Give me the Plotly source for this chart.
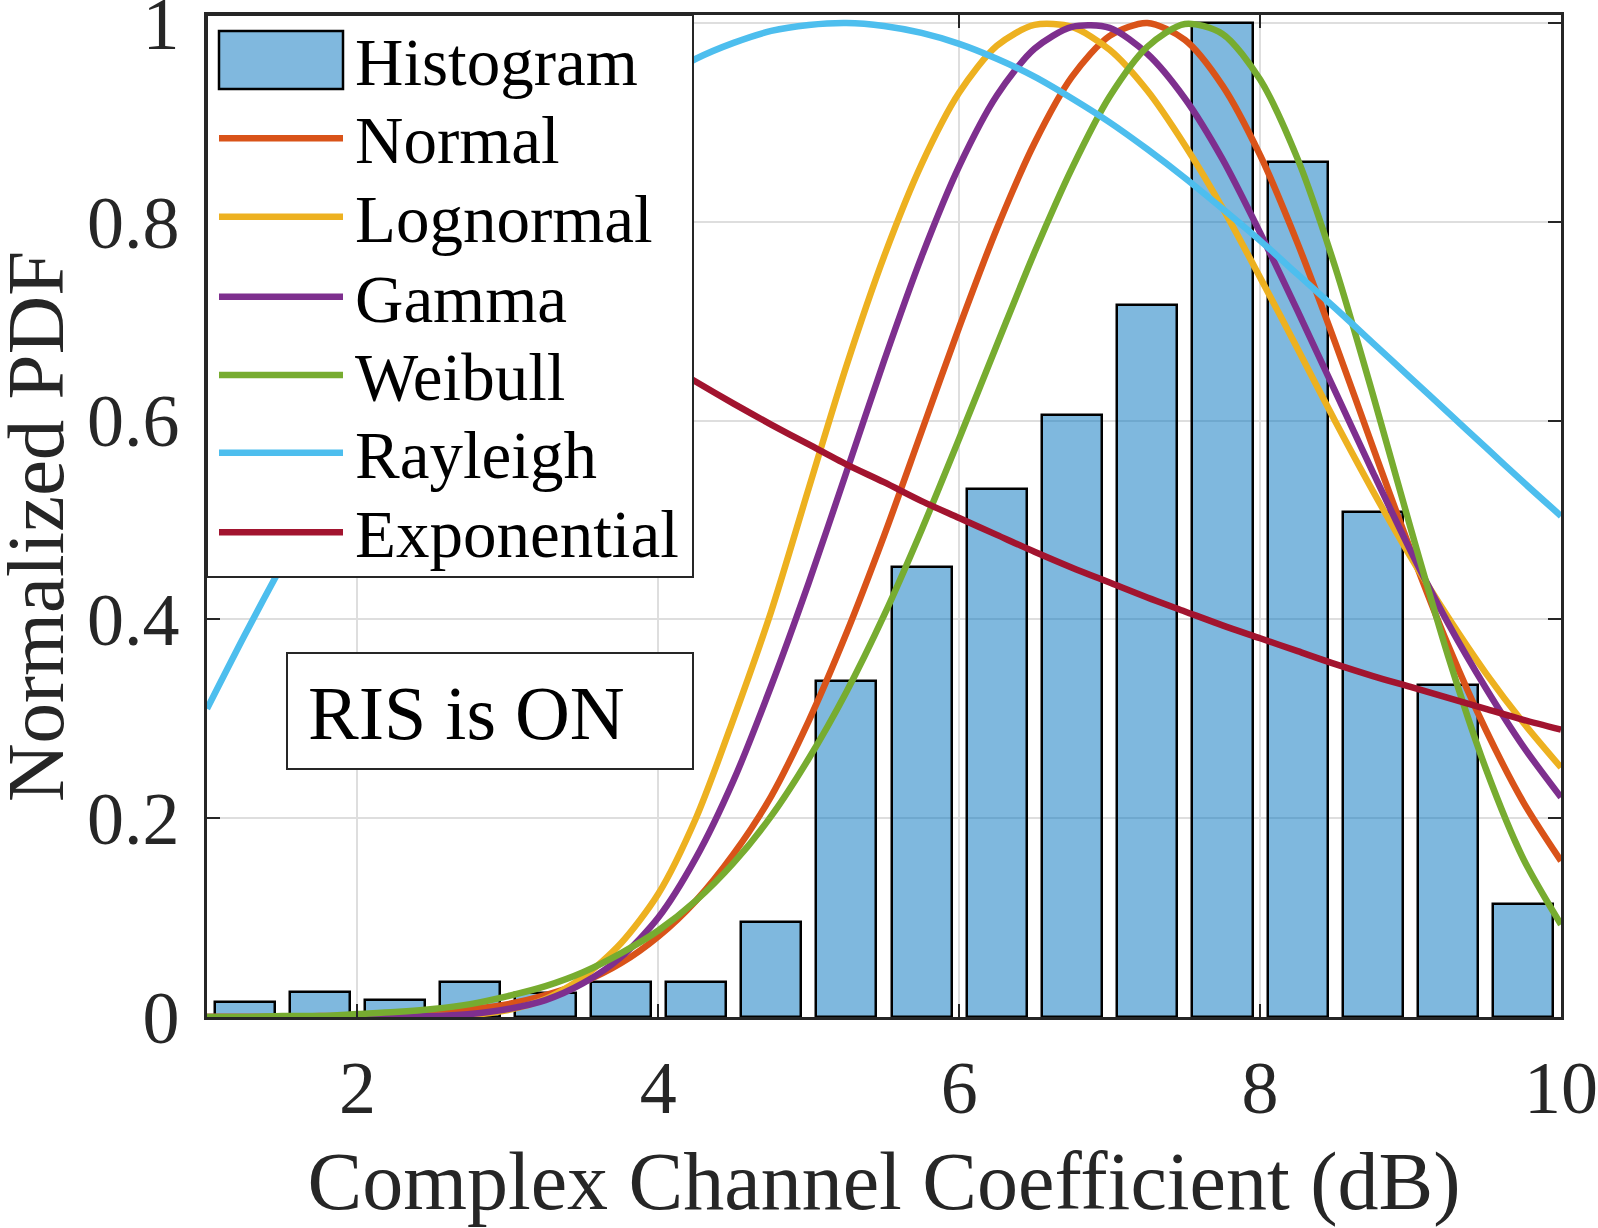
import plotly.graph_objects as go

# ---------------- data ----------------
hist_centers = [1.25, 1.75, 2.25, 2.75, 3.25, 3.75, 4.25, 4.75, 5.25, 5.75,
                6.25, 6.75, 7.25, 7.75, 8.25, 8.75, 9.25, 9.75]
hist_values = [0.015, 0.025, 0.017, 0.035, 0.024, 0.035, 0.035, 0.096, 0.338, 0.453,
               0.531, 0.606, 0.716, 1.000, 0.860, 0.508, 0.334, 0.114]

x_fit = [1.00, 1.25, 1.50, 1.75, 2.00, 2.25, 2.50, 2.75, 3.00, 3.25, 3.50, 3.75,
         4.00, 4.25, 4.50, 4.75, 5.00, 5.25, 5.50, 5.75, 6.00, 6.25, 6.50, 6.75,
         7.00, 7.25, 7.50, 7.75, 8.00, 8.25, 8.50, 8.75, 9.00, 9.25, 9.50, 9.75, 10.00]

normal = [0.000, 0.000, 0.000, 0.001, 0.001, 0.003, 0.005, 0.008, 0.013, 0.022, 0.035, 0.054,
          0.081, 0.117, 0.164, 0.222, 0.298, 0.386, 0.484, 0.589, 0.694, 0.793, 0.879, 0.946,
          0.987, 1.000, 0.983, 0.937, 0.867, 0.778, 0.678, 0.573, 0.470, 0.374, 0.289, 0.216, 0.157]
lognormal = [0.000, 0.000, 0.000, 0.000, 0.000, 0.000, 0.001, 0.002, 0.007, 0.018, 0.040, 0.074,
             0.124, 0.200, 0.300, 0.408, 0.532, 0.655, 0.765, 0.858, 0.930, 0.977, 0.998, 0.996,
             0.973, 0.932, 0.877, 0.814, 0.744, 0.672, 0.599, 0.529, 0.463, 0.402, 0.346, 0.296, 0.251]
gamma = [0.000, 0.000, 0.000, 0.000, 0.000, 0.000, 0.001, 0.003, 0.008, 0.017, 0.034, 0.060,
         0.100, 0.160, 0.238, 0.333, 0.437, 0.548, 0.660, 0.765, 0.856, 0.927, 0.974, 0.996,
         0.995, 0.969, 0.924, 0.863, 0.789, 0.710, 0.629, 0.548, 0.469, 0.396, 0.331, 0.272, 0.221]
weibull = [0.000, 0.000, 0.001, 0.001, 0.003, 0.005, 0.008, 0.013, 0.021, 0.031, 0.045, 0.064,
           0.087, 0.117, 0.155, 0.202, 0.260, 0.327, 0.404, 0.490, 0.582, 0.676, 0.769, 0.854,
           0.926, 0.976, 0.999, 0.989, 0.943, 0.863, 0.754, 0.626, 0.492, 0.363, 0.250, 0.159, 0.093]
rayleigh = [0.310, 0.384, 0.455, 0.523, 0.587, 0.648, 0.704, 0.756, 0.803, 0.846, 0.883, 0.915,
            0.942, 0.964, 0.980, 0.992, 0.998, 1.000, 0.997, 0.990, 0.979, 0.964, 0.946, 0.924,
            0.900, 0.873, 0.844, 0.813, 0.781, 0.747, 0.713, 0.678, 0.643, 0.608, 0.573, 0.538, 0.504]
exponential = [1.000, 0.966, 0.933, 0.902, 0.871, 0.842, 0.813, 0.786, 0.759, 0.733, 0.708, 0.684,
               0.661, 0.639, 0.617, 0.596, 0.576, 0.556, 0.538, 0.519, 0.502, 0.485, 0.468, 0.452,
               0.437, 0.422, 0.408, 0.394, 0.381, 0.368, 0.355, 0.343, 0.332, 0.321, 0.310, 0.299, 0.289]

series_names = ["Normal", "Lognormal", "Gamma", "Weibull", "Rayleigh", "Exponential"]
series_values = [normal, lognormal, gamma, weibull, rayleigh, exponential]
series_colors = ["#D95319", "#EDB120", "#7E2F8E", "#77AC30", "#4DBEEE", "#A2142F"]

x_ticks = [2, 4, 6, 8, 10]
y_ticks = [0, 0.2, 0.4, 0.6, 0.8, 1]
y_tick_labels = ["0", "0.2", "0.4", "0.6", "0.8", "1"]
x_title = "Complex Channel Coefficient (dB)"
y_title = "Normalized PDF"

# ---------------- layout geometry (pixels) ----------------
W, H = 1598, 1228
L, R, T, B = 207, 1561, 15, 1017
FONT = "Liberation Serif"
AX = "#262626"
LINE_W = 6.5


def px(x):
    return (x - L) / (R - L)


def py(y):
    return (B - y) / (B - T)


fig = go.Figure()
fig.add_trace(go.Bar(
    x=hist_centers, y=hist_values, width=0.4, name="Histogram",
    marker=dict(color="rgba(0,114,189,0.5)", line=dict(color="black", width=2.5)),
    showlegend=False,
))
for name, vals, col in zip(series_names, series_values, series_colors):
    fig.add_trace(go.Scatter(
        x=x_fit, y=vals, mode="lines", name=name,
        line=dict(color=col, width=LINE_W, shape="spline", smoothing=0.8),
        showlegend=False,
    ))

shapes = []
annotations = []

# legend box
leg_x0, leg_x1, leg_y0, leg_y1 = 207, 693, 15, 577
shapes.append(dict(type="rect", xref="paper", yref="paper", layer="above",
                   x0=px(leg_x0), x1=px(leg_x1), y0=py(leg_y1), y1=py(leg_y0),
                   fillcolor="white", line=dict(color=AX, width=2)))
sym_x0, sym_x1, txt_x = 219, 343, 353
row_y = [60.5, 138.3, 216.7, 296.7, 375, 452.7, 532.3]
shapes.append(dict(type="rect", xref="paper", yref="paper", layer="above",
                   x0=px(sym_x0), x1=px(sym_x1), y0=py(89), y1=py(31),
                   fillcolor="#80B8DE", line=dict(color="black", width=2.5)))
legend_labels = ["Histogram"] + series_names
for i, col in enumerate(series_colors):
    yy = row_y[i + 1]
    shapes.append(dict(type="line", xref="paper", yref="paper", layer="above",
                       x0=px(sym_x0), x1=px(sym_x1), y0=py(yy), y1=py(yy),
                       line=dict(color=col, width=LINE_W)))
for lab, yy in zip(legend_labels, row_y):
    annotations.append(dict(text=lab, xref="paper", yref="paper",
                            x=px(txt_x), y=py(yy + 2), xanchor="left", yanchor="middle",
                            showarrow=False, font=dict(family=FONT, size=67, color="black")))

# RIS box
shapes.append(dict(type="rect", xref="paper", yref="paper", layer="above",
                   x0=px(287), x1=px(693), y0=py(769), y1=py(653),
                   fillcolor="white", line=dict(color=AX, width=2)))
annotations.append(dict(text="RIS is ON", xref="paper", yref="paper",
                        x=px(306), y=py(713), xanchor="left", yanchor="middle",
                        showarrow=False, font=dict(family=FONT, size=76, color="black")))

# y-axis title (placed freely, like the reference, close to the left edge)
annotations.append(dict(text=y_title, xref="paper", yref="paper", textangle=-90,
                        x=px(36), y=py(527), xanchor="center", yanchor="middle",
                        showarrow=False, font=dict(family=FONT, size=81, color=AX)))

axis_common = dict(
    showline=True, linecolor=AX, linewidth=2.5, mirror="allticks",
    ticks="inside", ticklen=13, tickwidth=2, tickcolor=AX,
    showgrid=True, gridcolor="#DEDEDE", gridwidth=2, zeroline=False,
    ticklabeloverflow="allow",
    tickfont=dict(family=FONT, size=74, color=AX),
)

fig.update_layout(
    width=W, height=H,
    margin=dict(l=L, r=W - R, t=T, b=H - B, autoexpand=False),
    paper_bgcolor="white", plot_bgcolor="white",
    showlegend=False, bargap=0,
    shapes=shapes, annotations=annotations,
    xaxis=dict(range=[1, 10], tickvals=x_ticks, ticklabelstandoff=4,
               title=dict(text=x_title, standoff=25,
                          font=dict(family=FONT, size=82, color=AX)),
               **axis_common),
    yaxis=dict(range=[0, 1.008], tickvals=y_ticks, ticktext=y_tick_labels, ticklabelstandoff=10,
               **axis_common),
)

fig.write_html("out.html")
